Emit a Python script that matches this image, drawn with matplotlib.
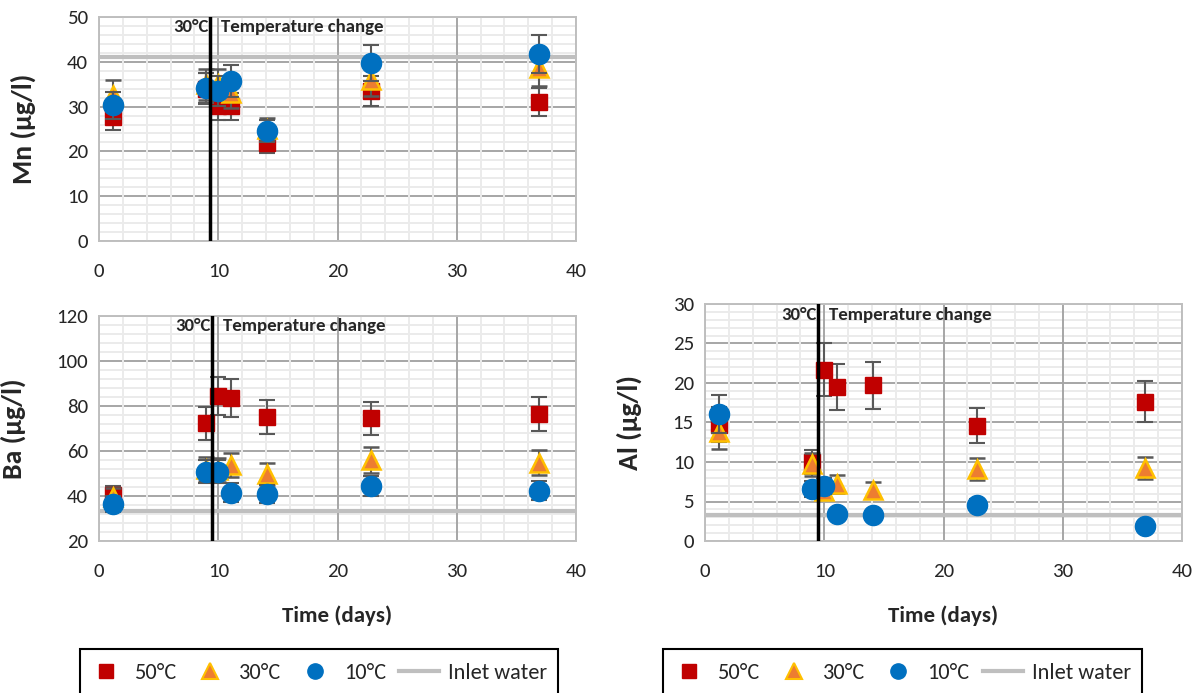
import matplotlib
matplotlib.use("Agg")
import matplotlib.pyplot as plt
from matplotlib.ticker import MultipleLocator
from matplotlib.patches import Rectangle
from matplotlib.lines import Line2D

plt.rcParams['font.family'] = ['Carlito', 'Lato', 'DejaVu Sans']

# sampling days (same for all panels)
days = [1.2, 9.0, 10.0, 11.1, 14.1, 22.8, 36.9]

# Mn (ug/l)
mn_50 = [27.6, 34.0, 30.1, 30.1, 21.9, 33.5, 31.1]
mn_30 = [32.7, 35.0, 35.0, 33.0, 25.0, 35.9, 38.6]
mn_10 = [30.3, 34.2, 33.5, 35.7, 24.5, 39.7, 41.7]
mn_50_err = [2.8, 3.4, 3.0, 3.0, 2.2, 3.3, 3.1]
mn_30_err = [3.3, 3.5, 3.5, 3.3, 2.5, 3.6, 3.9]
mn_10_err = [3.0, 3.4, 3.4, 3.6, 2.5, 4.0, 4.2]
mn_inlet = 41.1
mn_change = 9.3

# Ba (ug/l)
ba_50 = [40.5, 72.3, 84.6, 83.7, 75.0, 74.5, 76.4]
ba_30 = [39.5, 52.0, 51.5, 53.8, 49.8, 56.0, 54.8]
ba_10 = [36.3, 50.8, 50.8, 41.5, 40.9, 44.4, 42.4]
ba_50_err = [4.0, 7.2, 8.5, 8.4, 7.5, 7.5, 7.6]
ba_30_err = [4.0, 5.2, 5.2, 5.4, 5.0, 5.6, 5.5]
ba_10_err = [3.6, 5.1, 5.1, 4.2, 4.1, 4.4, 4.2]
ba_inlet = 33.5
ba_change = 9.5

# Al (ug/l)
al_50 = [14.7, 10.0, 21.7, 19.5, 19.7, 14.6, 17.6]
al_30 = [13.8, 9.7, 6.3, 7.2, 6.5, 9.1, 9.2]
al_10 = [16.1, 6.6, 7.0, 3.4, 3.3, 4.6, 1.95]
al_50_err = [2.2, 1.5, 3.3, 2.9, 3.0, 2.2, 2.6]
al_30_err = [2.1, 1.5, 0.9, 1.1, 1.0, 1.4, 1.4]
al_10_err = [2.4, 1.0, 1.0, 0.5, 0.5, 0.7, 0.3]
al_inlet = 3.3
al_change = 9.5

RED = '#c00000'
ORANGE = '#ed7d31'
GOLD = '#ffc000'
BLUE = '#0070c0'
INLET = '#bfbfbf'
ERR = '#595959'
TXT = '#262626'

W, H = 1201, 693
fig = plt.figure(figsize=(W / 100, H / 100), dpi=100)


def px_axes(left, top, right, bottom):
    return fig.add_axes([left / W, 1 - bottom / H, (right - left) / W, (bottom - top) / H])


def panel(ax, s50, s30, s10, e50, e30, e10, inlet, change, ylim, ymajor, yminor, ylabel):
    ax.set_xlim(0, 40)
    ax.set_ylim(*ylim)
    ax.xaxis.set_major_locator(MultipleLocator(10))
    ax.xaxis.set_minor_locator(MultipleLocator(2))
    ax.yaxis.set_major_locator(MultipleLocator(ymajor))
    ax.yaxis.set_minor_locator(MultipleLocator(yminor))
    ax.grid(which='minor', color='#ebebeb', lw=1.4)
    ax.grid(which='major', color='#a6a6a6', lw=1.4)
    ax.set_axisbelow(True)
    ax.xaxis.set_zorder(0.6)
    for sp in ax.spines.values():
        sp.set_color('#bfbfbf')
        sp.set_linewidth(1.4)
    ax.tick_params(which='both', length=0, labelsize=15, colors=TXT)
    ax.tick_params(axis='x', pad=16)
    ax.tick_params(axis='y', pad=8)

    ax.axhline(inlet, color=INLET, lw=3, zorder=2)

    ax.errorbar(days, s50, yerr=e50, fmt='s', ms=11, color=RED, mec=RED,
                ecolor=ERR, elinewidth=1.5, capsize=6, capthick=1.5, zorder=3)
    ax.errorbar(days, s30, yerr=e30, fmt='^', ms=13, color=ORANGE, mec=GOLD, mew=1.8,
                ecolor=ERR, elinewidth=1.5, capsize=6, capthick=1.5, zorder=4)
    ax.errorbar(days, s10, yerr=e10, fmt='o', ms=14.5, color=BLUE, mec=BLUE,
                ecolor=ERR, elinewidth=1.5, capsize=6, capthick=1.5, zorder=5)

    ax.axvline(change, color='black', lw=2.5, zorder=6)
    ax.annotate('30°C', xy=(change, 0.955), xycoords=('data', 'axes fraction'),
                xytext=(-1, 0), textcoords='offset points', ha='right', va='center',
                fontsize=13.5, fontweight='bold', color=TXT, zorder=7)
    ax.annotate('Temperature change', xy=(change, 0.955), xycoords=('data', 'axes fraction'),
                xytext=(8, 0), textcoords='offset points', ha='left', va='center',
                fontsize=13.5, fontweight='bold', color=TXT, zorder=7)
    ax.set_ylabel(ylabel, fontsize=20, fontweight='bold', color=TXT, labelpad=22)


ax_mn = px_axes(99, 17, 576, 241)
panel(ax_mn, mn_50, mn_30, mn_10, mn_50_err, mn_30_err, mn_10_err, mn_inlet, mn_change,
      (0, 50), 10, 2, 'Mn (µg/l)')

ax_ba = px_axes(99, 316, 576, 541)
panel(ax_ba, ba_50, ba_30, ba_10, ba_50_err, ba_30_err, ba_10_err, ba_inlet, ba_change,
      (20, 120), 20, 4, 'Ba (µg/l)')
ax_ba.set_xlabel('Time (days)', fontsize=16.5, fontweight='bold', color=TXT, labelpad=18)

ax_al = px_axes(705, 304, 1182, 541)
panel(ax_al, al_50, al_30, al_10, al_50_err, al_30_err, al_10_err, al_inlet, al_change,
      (0, 30), 5, 1, 'Al (µg/l)')
ax_al.set_xlabel('Time (days)', fontsize=16.5, fontweight='bold', color=TXT, labelpad=18)

# legends in boxes cut off at the bottom edge
handles = [
    Line2D([], [], ls='none', marker='s', ms=10, color=RED),
    Line2D([], [], ls='none', marker='^', ms=11, color=ORANGE, mec=GOLD, mew=1.5),
    Line2D([], [], ls='none', marker='o', ms=11, color=BLUE),
    Line2D([], [], color=INLET, lw=3),
]
labels = ['50°C', '30°C', '10°C', 'Inlet water']
for x0, x1 in [(80, 558), (663, 1142)]:
    fig.patches.append(Rectangle((x0 / W, -0.05), (x1 - x0) / W, (H - 649) / H + 0.05,
                                 transform=fig.transFigure, fill=False, ec='black', lw=1.5))
    fig.legend(handles, labels, loc='center', bbox_to_anchor=((x0 + x1) / 2 / W - 0.002, 1 - 673 / H),
               ncol=4, frameon=False, fontsize=16, handlelength=1.8, handletextpad=0.4,
               columnspacing=0.6, labelcolor=TXT)

fig.savefig('out.png', dpi=100)
